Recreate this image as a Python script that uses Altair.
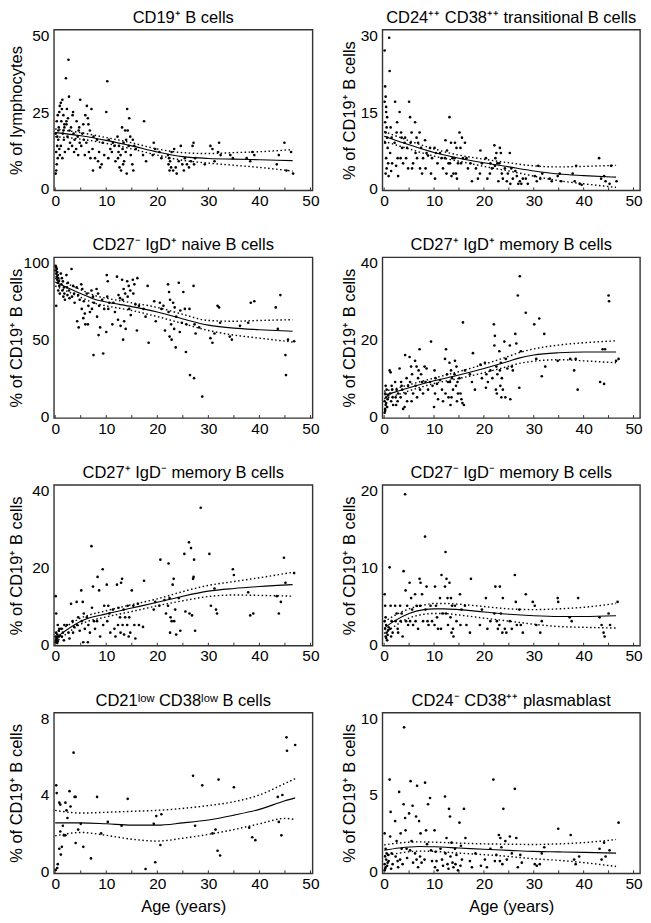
import altair as alt
import pandas as pd

FONT = "Liberation Sans"

# ---------------- data ----------------
p1_pts = [
(0.1,5),(0.2,6),(0.3,8),(0.5,10),(0.2,12),(0.4,14),(0.6,16),(0.1,18),(0.7,20),(0.3,22),(0.5,24),(0.8,25),(0.9,27),(0.4,17),(0.6,19),(0.8,13),(0.9,11),
(1.1,28),(1.4,29),(1.3,26),(1.6,24),(1.2,22),(1.8,20),(1.5,18),(1.7,16),(1.1,14),(1.9,12),(1.4,10),(1.6,19),(1.8,21),
(2.6,42),(2.1,36),(2.7,30),(2.3,26),(2.5,23),(2.2,21),(2.8,19),(2.4,17),(2.9,15),(2.6,13),(2.2,22),
(3.4,24),(3.1,20),(3.6,18),(3.8,16),(3.3,14),(3.7,12),(3.5,25),
(4.9,29),(4.2,22),(4.6,19),(4.4,17),(4.8,15),(4.1,13),(4.5,11),(4.7,20),
(5.3,18),(5.6,16),(5.1,14),(5.8,11),(5.5,21),(5.9,24),
(6.2,27),(6.5,21),(6.8,19),(6.1,15),(6.6,12),(6.9,10),(6.4,23),
(7.1,26),(7.5,17),(7.3,13),(7.8,10),(7.4,6),
(8.2,16),(8.6,12),(8.4,9),(8.8,7),
(9.3,15),(9.6,11),(9.1,8),
(10.2,35),(10.0,25),(10.5,16),(10.8,13),(10.4,10),
(11.3,15),(11.6,14),(11.1,12),(11.8,9),
(12.2,17),(12.5,14),(12.8,11),(12.3,10),(12.6,7),(12.9,6),(12.4,12),
(13.1,20),(13.7,19),(13.4,15),(13.2,13),(13.8,12),(13.5,9),(13.3,8),(13.9,16),
(14.1,26),(14.5,23),(14.2,19),(14.7,17),(14.4,14),(14.8,11),(14.0,5),
(15.2,16),(15.5,14),(15.1,8),(15.3,6),(15.8,13),
(17.4,22),(17.2,11),(17.8,9),
(19.3,15),(19.6,13),(19.1,11),
(20.4,12),(20.8,10),
(22.1,11),(22.3,10),(22.5,9),(22.2,8),(22.7,7),(22.4,6),(22.8,12),
(23.3,13),(23.6,7),(23.1,6),(23.8,5),
(24.6,14),(24.2,9),(24.9,8),
(25.4,10),(25.8,8),(26.2,7),(26.6,9),(25.2,6),
(27.1,15),(26.9,14),(27.4,10),(27.2,8),
(29.3,8),(30.4,14),(30.8,13),(31.2,9),
(32.1,15),(31.9,12),(32.4,11),
(34.3,11),(34.8,10),
(37.5,10),(38.6,12),(38.2,9),(39.0,11),
(43.4,8),(43.8,11),
(44.9,15),(45.3,6),
(46.6,5),(46.2,12)]
p1_fx = [0, 5, 10, 15, 20, 25, 30, 35, 40, 46.5]
p1_fit = [18.3, 17.3, 15.8, 14.0, 12.0, 10.5, 9.9, 9.7, 9.5, 9.2]
p1_hi = [19.5, 18.3, 16.7, 15.0, 13.0, 11.8, 11.5, 11.8, 12.1, 12.8]
p1_lo = [17.0, 16.2, 14.8, 13.0, 11.0, 9.3, 8.4, 7.7, 7.0, 5.8]

p2_pts = [
(0.1,27),(0.2,20),(0.3,18),(0.1,17),(0.4,15),(0.2,13),(0.5,12),(0.3,11),(0.6,10),(0.2,9),(0.7,8),(0.4,6),(0.8,5),(0.5,4),(0.3,3),(0.9,2.5),(0.6,14),(0.4,16),
(1.0,29.5),(1.1,23),(1.3,12),(1.5,10),(1.2,7),(1.6,5),(1.4,3.5),
(2.2,17),(2.5,11),(2.1,9),(2.7,6),(2.4,4.5),(2.8,2.5),(2.6,13),
(3.1,15),(3.4,11),(3.6,8),(3.3,6),(3.8,5),(3.5,10),
(4.2,10),(4.6,8),(4.4,6),(4.8,4),(4.1,9),
(5.0,17),(5.2,14),(5.5,11),(5.3,9),(5.8,5),(5.6,4),
(6.2,13),(6.5,10),(6.8,9),(6.3,7),(6.6,6),
(7.1,11),(7.4,8),(7.8,6),(7.2,4),(7.6,3),
(8.2,9.5),(8.5,7),(8.8,6.5),(8.3,4),
(9.2,8),(9.6,6),(9.4,3),
(10.1,8),(10.4,7),(10.7,5),(10.2,2),
(11.2,7),(11.5,6),(11.8,4),
(12.3,9.5),(12.6,7.5),(12.2,6),(12.9,5),(12.5,3),
(13.1,14),(13.4,9),(13.7,6),(13.2,5),(13.9,3),(13.5,2.5),
(14.2,9),(14.5,8),(14.1,6),(14.8,5),(14.4,3),(14.6,2),
(15.1,11),(15.6,10),(15.3,8),(15.8,6),(15.4,5),
(16.2,9),(16.5,6),(16.8,4),
(17.3,5),(17.6,1.5),
(18.4,4),(18.8,2),
(19.3,7.5),(19.6,5),(19.2,3),
(20.4,6),(20.7,2),
(21.3,5),(21.6,4),(21.2,3),
(22.1,8.5),(22.5,7),(22.3,6),(22.7,5),(22.2,4.5),(22.9,1.5),
(23.2,8),(23.4,7),(23.1,5),(23.6,3),(23.8,2),
(24.2,4),(24.6,1.5),(24.8,3),
(25.2,7),(25.5,4),(25.8,2),(25.3,1),
(26.3,3.5),(26.6,2.5),(26.9,1),
(27.2,1.5),(27.5,1),(27.8,2),
(28.4,2),(28.8,1),
(30.2,2.5),(30.6,1.5),(30.9,4.5),
(31.3,2),(31.7,3),
(33.2,2),(33.6,1.5),
(34.8,2.5),(35.2,3),(35.5,1.5),
(37.8,3),(38.2,1.5),(38.5,4.5),
(39.2,1),(39.6,0.8),
(43.1,6),(43.5,2),
(44.1,2.5),(44.4,1.5),
(45.2,1),(45.5,4.5),
(46.6,1.5)]
p2_fx = [0, 5, 10, 15, 20, 25, 30, 35, 40, 46.5]
p2_fit = [10.3, 8.6, 7.1, 6.0, 5.1, 4.3, 3.5, 2.9, 2.6, 2.3]
p2_hi = [11.2, 9.4, 7.8, 6.6, 5.8, 5.1, 4.5, 4.3, 4.4, 4.6]
p2_lo = [9.3, 7.8, 6.4, 5.4, 4.4, 3.5, 2.5, 1.6, 1.0, 0.3]

p3_pts = [
(0.1,98),(0.2,97),(0.3,96),(0.1,95),(0.4,94),(0.2,93),(0.5,92),(0.3,91),(0.6,90),(0.4,89),(0.7,88),(0.5,87),(0.8,85),(0.6,82),(0.9,80),(0.2,72),
(1.1,93),(1.3,90),(1.5,88),(1.2,86),(1.7,84),(1.4,82),(1.8,80),(1.6,78),(1.9,76),
(2.2,92),(2.5,87),(2.3,84),(2.7,82),(2.4,79),(2.8,77),
(3.2,96),(3.5,85),(3.7,80),(3.3,78),(3.8,74),
(4.2,84),(4.5,79),(4.8,76),(4.3,62),(4.6,58),
(5.1,86),(5.3,83),(5.6,75),(5.2,70),(5.8,67),(5.5,64),(5.9,60),
(6.2,80),(6.5,72),(6.8,68),(6.4,60),
(7.1,82),(7.4,78),(7.6,74),(7.2,70),(7.5,40),
(8.1,83),(8.4,80),(8.6,72),(8.2,65),(8.8,58),(8.5,53),
(9.2,76),(9.6,70),(9.4,41),
(10.1,92),(10.3,88),(10.2,78),(10.6,74),(10.4,70),(10.0,55),
(11.4,74),(11.7,68),(11.2,60),
(12.1,91),(12.4,79),(12.7,77),(12.3,63),(12.8,59),
(13.1,89),(13.4,83),(13.7,80),(13.2,76),(13.5,62),(13.3,50),(13.8,57),
(14.1,88),(14.4,85),(14.7,82),(14.2,78),(14.5,70),(14.8,66),
(15.2,89),(15.5,86),(15.3,80),(15.7,73),
(16.1,90),(16.4,72),(16.0,56),
(17.3,70),(17.7,65),
(18.1,85),(18.3,48),
(19.4,75),(19.7,62),
(20.5,74),(20.8,70),
(21.2,72),(21.5,56),
(22.1,86),(22.3,81),(22.5,76),(22.2,68),(22.7,60),(22.4,52),(22.8,50),
(23.1,74),(23.4,71),(23.7,65),(23.3,57),(23.6,45),
(24.2,87),(24.5,69),(24.8,61),(24.4,55),
(25.1,81),(25.4,70),(25.7,60),(25.6,42),
(26.3,70),(26.4,27),
(27.1,85),(27.3,60),(27.5,54),(27.2,25),
(28.2,58),
(28.8,13),
(30.4,51),(30.8,48),
(31.2,54),
(31.8,72),(32.1,71),(32.3,61),
(34.2,52),(34.6,50),
(36.2,59),
(37.8,61),(38.3,74),
(39.0,75),
(43.2,71),(43.6,57),
(44.1,79),
(45.1,40),(45.2,27),(45.6,50),
(46.8,49)]
p3_fx = [0, 2, 5, 8, 10, 15, 20, 25, 30, 35, 40, 46.5]
p3_fit = [87.5, 84.5, 80.0, 76.0, 74.5, 71.5, 68.0, 63.5, 59.5, 57.5, 56.5, 55.5]
p3_hi = [90.0, 87.0, 82.5, 78.5, 77.0, 74.0, 71.0, 66.5, 62.5, 62.0, 62.5, 63.0]
p3_lo = [85.0, 82.0, 77.5, 73.5, 72.0, 69.0, 65.0, 60.5, 56.0, 53.0, 51.0, 48.5]

p4_pts = [
(0.1,1),(0.2,2),(0.3,3),(0.1,4),(0.4,5),(0.2,6),(0.5,7),(0.3,8),(0.6,2.5),(0.4,3.5),(0.7,4.5),(0.2,1.5),(0.8,5.5),
(1.1,12),(1.3,11.5),(1.5,8),(1.2,6),(1.7,5),(1.4,4),(1.8,3),(1.6,7),
(2.2,9),(2.5,7),(2.3,5),(2.7,4),(2.4,3),(2.8,6),
(3.1,12.5),(3.4,9),(3.6,7),(3.3,5),(3.8,2),(3.5,8),
(4.2,16),(4.5,10),(4.8,8),(4.3,6),(4.6,4),(4.1,2.5),
(5.1,15.5),(5.4,13),(5.6,11),(5.2,9),(5.8,6),(5.5,4),
(6.2,14.5),(6.5,13),(6.8,10),(6.3,8),(6.6,5),(6.9,12),
(7.1,17.5),(7.4,11),(7.6,9),(7.2,7),(7.8,6),
(8.1,13),(8.5,12.5),(8.3,9),(8.8,7),
(9.4,19.5),(9.2,9),(9.7,8),
(10.1,12),(10.3,10),(10.6,8.5),(10.2,6),(10.8,4.5),(10.0,2.5),
(11.2,9.5),(11.6,7),(11.8,4),
(12.4,17.5),(12.2,15),(12.6,11),(12.8,9),(12.3,6),(12.9,5),
(13.1,14),(13.4,12),(13.6,10),(13.2,9),(13.8,7),(13.5,5),(13.3,3),
(14.2,14.5),(14.5,13),(14.1,11),(14.7,9),(14.4,8),(14.8,6),(14.6,4),
(15.1,10),(15.3,6),(15.5,4.5),(15.7,3.5),
(15.8,24.5),(16.2,12),(16.0,3),
(17.2,11),(17.6,9),
(17.8,16.5),(18.2,7),
(19.3,13.5),(19.6,10),
(20.2,14),(20.5,11),(20.8,9),(20.4,7.5),
(21.3,12),(21.7,10),
(22.0,24),(22.2,21),(22.1,18.5),(22.5,13),(22.7,11),(22.4,7),(22.6,6),
(23.1,17),(23.4,14),(23.2,12),(23.6,10),(23.3,8),(23.8,7),(23.5,5),
(24.1,19.5),(24.4,15),(24.7,12.5),(24.3,5),
(25.2,18.5),(25.6,13),(25.8,12),(25.3,4.5),
(26.3,21.5),(26.5,19),
(26.8,31.5),(27.2,36.5),(27.4,17),(27.1,7.5),
(28.4,27),
(30.1,24),(30.5,15),
(31.1,25.5),(31.6,10.5),
(32.1,21.5),(32.3,13),
(34.8,14.5),
(37.3,15),
(38.1,12),(38.4,15),
(38.8,7),
(43.3,9),(43.8,17.5),
(44.1,8.5),(44.3,17.5),
(45.0,31.5),(45.1,30),
(46.5,14.5),(47.0,15)]
p4_fx = [0, 2, 5, 10, 15, 20, 25, 27, 30, 35, 40, 46.5]
p4_fit = [5.6, 6.3, 7.5, 9.3, 10.8, 12.5, 14.4, 15.2, 16.0, 16.6, 16.8, 16.8]
p4_hi = [6.6, 7.2, 8.3, 10.0, 11.7, 13.6, 15.7, 16.6, 17.6, 18.6, 19.2, 19.7]
p4_lo = [4.6, 5.4, 6.7, 8.6, 9.9, 11.4, 13.1, 13.8, 14.4, 14.8, 14.5, 14.0]

p5_pts = [
(0.1,0.5),(0.2,1),(0.3,1.5),(0.1,2),(0.4,2.5),(0.2,3),(0.5,0.8),(0.3,1.2),(0.6,1.8),(0.4,0.3),(0.1,12.5),(0.2,8),(0.5,5),(0.7,3.5),(0.8,4),(0.9,2.2),
(1.2,4),(1.5,3),(1.3,2),(1.7,1),(1.8,5),
(2.3,5),(2.6,3),(2.8,1.5),
(3.1,10.5),(3.4,6),(3.7,4.5),(3.5,3),
(4.2,11),(4.5,7),(4.3,5),(4.8,3.5),
(5.1,14),(5.4,11),(5.6,8),(5.2,6),(5.8,4),(5.5,0.5),
(6.2,7),(6.5,5),(6.8,3),(6.4,0.5),
(7.1,25.5),(7.4,15),(7.2,9.5),(7.6,6),(7.8,4),
(8.3,17.5),(8.6,14),(8.2,6),(8.8,2),
(9.3,19.5),(9.6,10),(9.4,5),
(10.1,15.5),(10.4,10),(10.6,8),(10.2,6),(10.8,3),
(11.3,9),(11.6,4),(11.8,2),
(12.1,15.5),(12.4,9.5),(12.7,7),(12.3,5),(12.8,3),
(13.1,17),(12.9,16),(13.4,9),(13.7,7),(13.2,5),(13.5,2.5),
(14.2,10),(14.5,7),(14.1,5),(14.7,3),(14.4,2),
(15.0,14),(15.3,10),(15.5,5),(15.7,1.5),
(16.2,10.5),(16.4,5),
(17.4,16.5),(17.2,4.5),
(19.3,9),(19.6,11),
(20.4,10),(20.6,22),
(21.4,11.5),(21.7,8),
(22.2,21),(22.4,12),(22.1,10),(22.6,7),(22.8,6),(22.5,3),
(23.2,17),(23.0,15.5),(23.5,9),(23.3,6),(23.7,2.5),
(24.2,12),(24.5,3.5),
(25.3,23.5),(25.5,8.5),
(26.2,26.5),(26.6,25),(26.3,8),(26.8,7.5),
(27.1,17.5),(27.0,17),(27.2,22),(27.4,3.5),
(28.5,35.5),
(30.2,23.5),(30.5,10),
(31.2,14.5),(31.5,9),(31.7,8),
(34.8,19.5),(35.0,18),
(37.8,13.5),(38.2,7.5),
(38.8,8),
(43.4,12.5),
(43.8,8),(44.2,11),
(44.8,22.5),(45.1,16),
(46.8,18.5)]
p5_fx = [0, 2, 5, 10, 15, 20, 25, 30, 35, 40, 46.5]
p5_fit = [1.5, 3.5, 6.0, 7.9, 9.4, 10.9, 12.5, 13.8, 14.5, 15.0, 15.5]
p5_hi = [2.8, 4.5, 6.8, 8.7, 10.3, 11.8, 13.7, 15.3, 16.3, 17.3, 18.7]
p5_lo = [0.4, 2.5, 5.2, 7.1, 8.5, 10.0, 11.3, 12.4, 12.8, 12.7, 12.5]

p6_pts = [
(0.1,6.5),(0.2,5),(0.3,3.5),(0.1,3),(0.4,2.5),(0.2,2),(0.5,1.5),(0.3,1),(0.6,0.5),(0.4,0.8),(0.7,1.2),(0.8,1.8),(0.9,2.2),
(1.1,10),(1.3,5),(1.5,3),(1.2,2),(1.7,1.5),(1.4,1),
(2.2,5),(2.5,4),(2.3,3),(2.7,2),(2.8,1.5),
(3.2,5),(3.5,4),(3.3,3),(3.7,1),
(4.2,19.5),(3.9,9.5),(4.3,7),(4.6,5),(4.4,3),(4.8,2.5),
(5.1,8),(5.4,6),(5.6,4.5),(5.2,3),(5.8,2.5),
(6.2,6.5),(6.5,5),(6.3,3),(6.8,2),
(7.1,8.5),(7.3,8),(7.6,6.5),(7.2,5),(7.8,3),
(8.2,14),(8.5,7.5),(8.3,4.5),(8.7,3),(8.9,2.5),
(9.3,5),(9.6,3),
(10.2,7.5),(10.4,5),(10.6,3.5),(10.1,2.5),(10.8,2),
(11.5,9),(11.2,6),(11.7,4),(11.4,2),
(12.3,12),(12.5,8.5),(12.2,7.5),(12.7,6),(12.4,4),(12.8,2.5),
(13.1,8),(13.4,6),(13.6,5),(13.3,3.5),(13.8,2),(13.5,1.5),
(14.2,5),(14.5,3),(13.9,1),
(15.2,6.5),(15.5,4.5),(15.3,2.5),
(16.2,5),(16.5,2.5),
(17.4,8.5),(17.2,1.5),
(19.2,2.5),(19.6,4.5),
(20.4,6),(20.7,2),
(21.3,3),
(22.3,7.5),(22.1,4),(22.6,3),(22.8,2),
(23.2,7.5),(23.4,4),(23.1,2.5),(23.7,1.5),
(23.8,6),(24.2,2),(24.5,1.5),
(25.2,3),(25.6,2),
(26.2,9),(26.4,5.5),(26.6,2.5),
(27.1,4.5),(27.4,2.5),(27.8,1.5),
(28.4,6.5),
(29.8,5.5),(30.2,5),(30.5,2.5),
(31.3,1.5),(31.6,3),
(34.8,6),(34.9,5.5),
(37.2,3.5),(37.6,3),
(38.9,6),
(43.2,3.5),(43.6,2.5),
(44.0,1.5),(44.2,1),
(45.0,4),(45.3,2.5),
(46.8,5.5)]
p6_fx = [0, 2, 5, 8, 10, 12, 15, 20, 25, 30, 35, 40, 46.5]
p6_fit = [2.1, 3.0, 4.0, 4.5, 4.6, 4.6, 4.5, 4.2, 3.9, 3.7, 3.6, 3.6, 3.7]
p6_hi = [2.9, 3.7, 4.6, 5.1, 5.3, 5.3, 5.2, 4.9, 4.6, 4.5, 4.6, 4.8, 5.3]
p6_lo = [1.4, 2.3, 3.4, 3.9, 4.0, 4.0, 3.8, 3.4, 3.0, 2.6, 2.3, 2.2, 2.1]

p7_pts = [
(0.2,4.5),(0.3,4.1),(0.1,0.1),(0.4,0.2),(0.5,0.4),(0.8,3.6),(1.0,3.5),(1.0,2.1),(0.8,1.2),(1.1,0.9),(1.3,1.3),(1.5,2.4),(1.7,1.9),
(2.0,3.6),(2.2,3.2),(2.4,2.8),(2.0,1.9),(2.8,4.2),(3.0,3.4),(3.6,6.2),(3.8,3.9),(4.0,3.9),(4.0,1.5),(4.5,2.2),(5.0,2.5),(5.5,1.3),
(7.0,0.7),(8.2,3.9),(9.0,2.0),(10.3,2.6),(13.0,2.4),(14.2,3.8),(17.7,0.15),(19.3,2.5),(19.6,0.5),(19.8,2.9),(20.6,1.4),(20.8,3.0),
(27.0,5.0),(27.4,2.4),(28.8,4.5),(30.8,2.0),(31.4,2.2),(31.8,1.1),(32.0,4.8),(32.3,0.85),(35.0,4.4),(38.0,2.3),(38.6,1.8),(39.2,1.65),
(43.6,3.9),(43.8,2.6),(44.3,1.9),(44.5,4.0),(45.3,7.0),(45.4,6.3),(47.0,6.6)]
p7_fx = [0, 5, 10, 15, 20, 25, 30, 35, 40, 45, 47]
p7_fit = [2.55, 2.55, 2.5, 2.43, 2.43, 2.55, 2.7, 2.95, 3.25, 3.7, 3.85]
p7_hi = [3.2, 3.06, 3.1, 3.15, 3.2, 3.3, 3.45, 3.65, 4.0, 4.6, 4.85]
p7_lo = [1.87, 2.05, 1.9, 1.7, 1.6, 1.75, 1.95, 2.2, 2.5, 2.78, 2.72]

p8_pts = [
(0.1,0.1),(0.2,0.2),(0.3,0.3),(0.1,0.5),(0.4,0.8),(0.2,1),(0.5,1.2),(0.3,1.5),(0.1,2.5),(0.6,0.4),(0.7,0.6),(0.8,1.1),(0.9,0.7),
(1.1,6),(1.3,3.9),(1.2,2.3),(1.5,1.2),(1.7,0.5),(1.4,0.2),
(2.2,3.3),(2.5,2),(2.3,1),(2.7,0.7),(2.8,0.3),
(3.0,5.2),(3.3,2.5),(3.5,1.5),(3.2,0.8),(3.7,0.5),
(4.0,9.4),(3.9,4.4),(4.2,3.5),(4.3,2.7),(4.5,1.5),(4.6,0.9),
(5.3,5.9),(5.0,3.8),(5.5,2),(5.2,1.4),(5.8,0.6),
(5.7,4.3),(6.4,3.6),(6.2,1.2),(6.5,0.8),(6.8,0.3),
(6.6,5.6),(7.0,3.3),(7.3,2.5),(7.2,1.0),(7.5,0.6),
(8.2,5.8),(8.4,2.7),(8.6,1.8),(8.1,0.8),
(8.8,4.4),(9.2,4.8),(9.4,1.4),(9.6,0.7),
(10.1,2.7),(10.3,1.3),(10.5,0.7),(10.2,0.3),(10.7,0.1),
(11.3,1.5),(11.6,0.8),(11.8,0.4),
(12.2,4.9),(12.5,2.2),(12.3,1.2),(12.7,0.5),(12.9,0.2),
(13.0,4.1),(13.2,3.6),(13.5,1.9),(13.3,1),(13.7,0.6),(13.9,0.3),
(14.2,1.5),(14.5,1.1),(14.3,0.5),(14.8,0.1),
(15.1,3.2),(15.4,1.7),(15.6,0.8),(15.3,0.4),
(16.0,4.1),(16.3,2.2),
(17.2,0.7),(17.6,0.3),
(18.3,1.2),
(19.4,0.4),
(20.2,0.8),(20.6,0.3),
(21.3,1.5),
(21.9,6.0),(22.2,0.7),(22.5,1.1),
(23.0,2.4),(23.3,2.2),(23.5,1.6),(23.2,0.7),(23.7,0.5),
(23.9,4.1),(24.3,2),(24.6,0.8),
(25.2,2.3),(25.6,1.2),
(26.2,5.4),(26.5,2.2),(26.8,0.3),
(27.3,1.1),(27.6,0.6),
(30.2,0.5),(30.6,0.4),
(31.2,0.5),(31.6,1.2),
(32.1,1.6),
(34.9,2.8),
(37.4,2.4),
(38.1,0.8),(38.4,0.5),
(39.1,1.0),
(43.2,1.5),(43.6,0.8),
(44.1,1.9),(44.4,1.0),
(45.2,1.4),
(47.0,3.2)]
p8_fx = [0, 3, 7, 10, 15, 20, 25, 30, 35, 40, 46.5]
p8_fit = [1.4, 1.55, 1.65, 1.63, 1.55, 1.47, 1.4, 1.33, 1.3, 1.27, 1.22]
p8_hi = [1.75, 1.88, 1.95, 1.93, 1.87, 1.82, 1.8, 1.78, 1.82, 1.9, 2.1]
p8_lo = [1.05, 1.22, 1.35, 1.33, 1.22, 1.12, 1.0, 0.85, 0.75, 0.6, 0.35]

titles = [
    "CD19\u207a B cells",
    "CD24\u207a\u207a CD38\u207a\u207a transitional B cells",
    "CD27\u207b IgD\u207a naive B cells",
    "CD27\u207a IgD\u207a memory B cells",
    "CD27\u207a IgD\u207b memory B cells",
    "CD27\u207b IgD\u207b memory B cells",
    "CD21\u02e1\u1d52\u02b7 CD38\u02e1\u1d52\u02b7 B cells",
    "CD24\u207b CD38\u207a\u207a plasmablast",
]
ytitle_lymph = "% of lymphocytes"
ytitle_b = "% of CD19\u207a B cells"
y_max = [50, 30, 100, 40, 40, 20, 8, 10]
x_ticks = [0, 5, 10, 15, 20, 25, 30, 35, 40, 45, 50]

panels = [
    (p1_pts, p1_fx, p1_fit, p1_hi, p1_lo),
    (p2_pts, p2_fx, p2_fit, p2_hi, p2_lo),
    (p3_pts, p3_fx, p3_fit, p3_hi, p3_lo),
    (p4_pts, p4_fx, p4_fit, p4_hi, p4_lo),
    (p5_pts, p5_fx, p5_fit, p5_hi, p5_lo),
    (p6_pts, p6_fx, p6_fit, p6_hi, p6_lo),
    (p7_pts, p7_fx, p7_fit, p7_hi, p7_lo),
    (p8_pts, p8_fx, p8_fit, p8_hi, p8_lo),
]

H = 161


def make_panel(i):
    pts, fx, fit, hi, lo = panels[i]
    col = i % 2
    bottom = i >= 6
    ymax = y_max[i]
    pdf = pd.DataFrame(pts, columns=["age", "val"])
    ldf = pd.DataFrame({"age": fx, "fit": fit, "hi": hi, "lo": lo})
    tdf = pd.DataFrame({"t": x_ticks})

    if col == 0:
        xdom = [-0.25, 50.4]
        w = 259
        ext, tpad = 29, 0
    else:
        xdom = [-0.35, 51.3]
        w = 258
        ext, tpad = 24, 1

    ppu = (H - 7) / ymax
    ydom = [-1.5 / ppu, ymax + 5.5 / ppu]

    xaxis = alt.Axis(values=x_ticks, labelPadding=3, titlePadding=7)
    xscale = alt.Scale(domain=xdom, nice=False, zero=False)
    yscale = alt.Scale(domain=ydom, nice=False, zero=False)
    yaxis = alt.Axis(values=[0, ymax / 2, ymax], labelPadding=5,
                     minExtent=ext, maxExtent=ext, titlePadding=tpad)
    ytitle = ytitle_lymph if i == 0 else ytitle_b
    xtitle = "Age (years)" if bottom else None

    points = alt.Chart(pdf).mark_circle(size=7, color="black", opacity=1).encode(
        x=alt.X("age:Q", scale=xscale, axis=xaxis, title=xtitle),
        y=alt.Y("val:Q", scale=yscale, axis=yaxis, title=ytitle),
    )
    ticks = alt.Chart(tdf).mark_rule(color="#333", strokeWidth=1).encode(
        x=alt.X("t:Q", scale=xscale), y=alt.value(H - 3), y2=alt.value(H)
    )
    fit_line = alt.Chart(ldf).mark_line(color="black", strokeWidth=1.1, interpolate="monotone").encode(
        x=alt.X("age:Q", scale=xscale), y=alt.Y("fit:Q", scale=yscale)
    )
    hi_line = alt.Chart(ldf).mark_line(color="black", strokeWidth=1.4, strokeDash=[1.5, 2.5], interpolate="monotone").encode(
        x=alt.X("age:Q", scale=xscale), y=alt.Y("hi:Q", scale=yscale)
    )
    lo_line = alt.Chart(ldf).mark_line(color="black", strokeWidth=1.4, strokeDash=[1.5, 2.5], interpolate="monotone").encode(
        x=alt.X("age:Q", scale=xscale), y=alt.Y("lo:Q", scale=yscale)
    )
    return alt.layer(points, ticks, fit_line, hi_line, lo_line).properties(
        width=w, height=H,
        title=alt.TitleParams(titles[i], fontSize=16.5, font=FONT, fontWeight="normal",
                              color="black", offset=2, anchor="middle", frame="group"),
    )


chart = alt.concat(
    *[make_panel(i) for i in range(8)],
    columns=2,
    spacing=alt.RowColnumber(row=67, column=70),
    bounds="flush",
    padding=0,
).configure_view(
    stroke="#333", strokeWidth=1.4
).configure_axis(
    grid=False, ticks=False, domain=False,
    labelFont=FONT, labelFontSize=15.5, labelColor="black",
    titleFont=FONT, titleFontSize=16.5, titleFontWeight="normal", titleColor="black",
)

chart.save("out.html", embed_options={"renderer": "svg", "actions": False})
